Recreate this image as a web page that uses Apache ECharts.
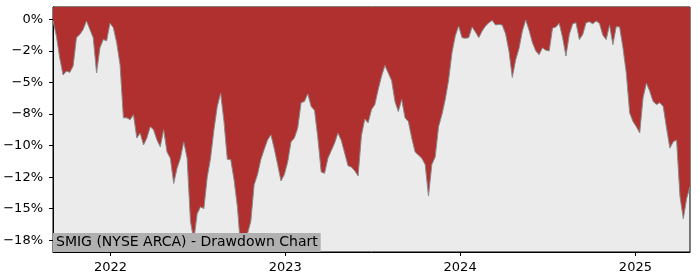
<!DOCTYPE html>
<html>
<head>
<meta charset="utf-8">
<script src="https://cdn.jsdelivr.net/npm/echarts@6/dist/echarts.min.js"></script>
<style>
html,body{margin:0;padding:0;background:#fff;}
#chart{width:700px;height:280px;}
</style>
</head>
<body>
<div id="chart"></div>
<script>
const titleText = 'SMIG (NYSE ARCA) - Drawdown Chart';

const dates = [
'2021-09-03','2021-09-10','2021-09-17','2021-09-24','2021-10-01','2021-10-08','2021-10-15','2021-10-22','2021-10-29','2021-11-05','2021-11-12','2021-11-19','2021-11-26','2021-12-03','2021-12-10','2021-12-17','2021-12-24','2021-12-31',
'2022-01-07','2022-01-14','2022-01-21','2022-01-28','2022-02-04','2022-02-11','2022-02-18','2022-02-25','2022-03-04','2022-03-11','2022-03-18','2022-03-25','2022-04-01','2022-04-08','2022-04-15','2022-04-22','2022-04-29','2022-05-06','2022-05-13','2022-05-20','2022-05-27','2022-06-03','2022-06-10','2022-06-17','2022-06-24','2022-07-01','2022-07-08','2022-07-15','2022-07-22','2022-07-29','2022-08-05','2022-08-12','2022-08-19','2022-08-26','2022-09-02','2022-09-09','2022-09-16','2022-09-23','2022-09-30','2022-10-07','2022-10-14','2022-10-21','2022-10-28','2022-11-04','2022-11-11','2022-11-18','2022-11-25','2022-12-02','2022-12-09','2022-12-16','2022-12-23','2022-12-30',
'2023-01-06','2023-01-13','2023-01-20','2023-01-27','2023-02-03','2023-02-10','2023-02-17','2023-02-24','2023-03-03','2023-03-10','2023-03-17','2023-03-24','2023-03-31','2023-04-07','2023-04-14','2023-04-21','2023-04-28','2023-05-05','2023-05-12','2023-05-19','2023-05-26','2023-06-02','2023-06-09','2023-06-16','2023-06-23','2023-06-30','2023-07-07','2023-07-14','2023-07-21','2023-07-28','2023-08-04','2023-08-11','2023-08-18','2023-08-25','2023-09-01','2023-09-08','2023-09-15','2023-09-22','2023-09-29','2023-10-06','2023-10-13','2023-10-20','2023-10-27','2023-11-03','2023-11-10','2023-11-17','2023-11-24','2023-12-01','2023-12-08','2023-12-15','2023-12-22','2023-12-29',
'2024-01-05','2024-01-12','2024-01-19','2024-01-26','2024-02-02','2024-02-09','2024-02-16','2024-02-23','2024-03-01','2024-03-08','2024-03-15','2024-03-22','2024-03-29','2024-04-05','2024-04-12','2024-04-19','2024-04-26','2024-05-03','2024-05-10','2024-05-17','2024-05-24','2024-05-31','2024-06-07','2024-06-14','2024-06-21','2024-06-28','2024-07-05','2024-07-12','2024-07-19','2024-07-26','2024-08-02','2024-08-09','2024-08-16','2024-08-23','2024-08-30','2024-09-06','2024-09-13','2024-09-20','2024-09-27','2024-10-04','2024-10-11','2024-10-18','2024-10-25','2024-11-01','2024-11-08','2024-11-15','2024-11-22','2024-11-29','2024-12-06','2024-12-13','2024-12-20','2024-12-27',
'2025-01-03','2025-01-10','2025-01-17','2025-01-24','2025-01-31','2025-02-07','2025-02-14','2025-02-21','2025-02-28','2025-03-07','2025-03-14','2025-03-21','2025-03-28','2025-04-04','2025-04-11','2025-04-18','2025-04-25'
];

const drawdown = [
-0.1,-1.3,-3.05,-4.4,-4.1,-4.2,-3.7,-1.45,-1.2,-0.8,-0.13,-0.8,-1.45,-4.25,-2.25,-1.6,-1.7,-0.3,
-0.66,-1.86,-3.6,-7.8,-7.8,-7.95,-7.55,-9.4,-9.0,-9.95,-9.4,-8.5,-8.75,-9.55,-10.1,-8.75,-10.5,-11.0,-13.0,-11.8,-11.0,-9.7,-11.0,-16.0,-17.5,-15.4,-14.85,-15.0,-12.5,-11.0,-8.75,-6.9,-5.85,-8.1,-11.1,-11.1,-12.7,-14.85,-18.2,-17.4,-17.0,-16.0,-13.1,-12.3,-11.1,-10.3,-9.55,-9.15,-10.25,-11.5,-12.8,-12.3,
-11.3,-9.7,-9.4,-8.6,-6.6,-6.5,-5.9,-6.9,-7.2,-9.4,-12.1,-12.2,-11.0,-10.4,-9.8,-9.0,-9.6,-10.6,-11.6,-11.7,-12.0,-12.4,-9.2,-7.9,-8.2,-7.15,-6.75,-5.55,-4.5,-3.65,-4.25,-4.85,-6.5,-7.3,-6.35,-7.8,-8.1,-9.4,-10.5,-10.75,-11.0,-11.5,-14.0,-11.5,-10.9,-8.5,-7.55,-6.35,-4.8,-2.65,-1.3,-0.53,
-1.45,-1.5,-1.45,-0.6,-1.0,-1.45,-0.93,-0.53,-0.27,-0.08,-0.45,-0.4,-0.45,-1.15,-2.5,-4.6,-3.2,-2.3,-0.93,-0.05,-0.87,-1.85,-2.5,-2.8,-2.25,-2.45,-2.5,-0.7,-0.6,-0.3,-1.45,-2.9,-1.2,-0.35,-0.27,-1.6,-1.2,-0.27,-0.19,-0.35,-0.13,-0.32,-1.25,-1.6,-0.45,-2.0,-0.58,-0.6,-2.25,-4.25,-7.4,-8.1,
-8.5,-9.0,-6.2,-5.05,-5.7,-6.5,-6.75,-6.6,-6.9,-8.6,-10.2,-9.7,-9.55,-14.0,-15.8,-14.2,-13.25
];

const yTickValues = [0, -2.5, -5, -7.5, -10, -12.5, -15, -17.5];
const yTickLabels = ['0%', '\u22122%', '\u22125%', '\u22128%', '\u221210%', '\u221212%', '\u221215%', '\u221218%'];
const xTickDates = ['2022-01-01', '2023-01-01', '2024-01-01', '2025-01-01'];
const xTickLabels = ['2022', '2023', '2024', '2025'];

const toTime = d => new Date(d + 'T00:00:00Z').getTime();
const xTickTimes = xTickDates.map(toTime);
const seriesData = dates.map((d, i) => [toTime(d), drawdown[i]]);

const chart = echarts.init(document.getElementById('chart'), null, {renderer: 'canvas'});
const font = 'DejaVu Sans';
chart.setOption({
  animation: false,
  backgroundColor: '#ffffff',
  textStyle: {fontFamily: font},
  grid: {
    left: 53, right: 10, top: 7, bottom: 28,
    show: true, backgroundColor: '#ebebeb', borderColor: '#000', borderWidth: 1,
    containLabel: false
  },
  title: {
    text: titleText,
    left: 53, top: 233,
    padding: [2, 3, 2, 3],
    backgroundColor: '#b0b0b0',
    textStyle: {fontFamily: font, fontSize: 14, fontWeight: 'normal', color: '#000', lineHeight: 15}
  },
  xAxis: {
    type: 'value',
    min: toTime(dates[0]),
    max: toTime(dates[dates.length - 1]),
    axisLine: {show: true, onZero: false, lineStyle: {color: '#000', width: 1}},
    axisTick: {show: true, customValues: xTickTimes, length: 4, lineStyle: {color: '#000'}},
    axisLabel: {
      customValues: xTickTimes,
      color: '#000', fontSize: 13, fontFamily: font, margin: 9,
      formatter: function (v) {
        let best = 0, bd = Infinity;
        xTickTimes.forEach((t, i) => { const d = Math.abs(t - v); if (d < bd) { bd = d; best = i; } });
        return xTickLabels[best];
      }
    },
    splitLine: {show: false}
  },
  yAxis: {
    type: 'value',
    min: -18.43, max: 0.98,
    axisLine: {show: true, onZero: false, lineStyle: {color: '#000', width: 1}},
    axisTick: {show: true, customValues: yTickValues, length: 4, lineStyle: {color: '#000'}},
    axisLabel: {
      customValues: yTickValues,
      color: '#000', fontSize: 13, fontFamily: font, margin: 10,
      formatter: function (v) {
        let best = 0, bd = Infinity;
        yTickValues.forEach((t, i) => { const d = Math.abs(t - v); if (d < bd) { bd = d; best = i; } });
        return yTickLabels[best];
      }
    },
    splitLine: {show: false}
  },
  series: [{
    type: 'line',
    data: seriesData,
    symbol: 'none',
    lineStyle: {color: '#8a8a8a', width: 1},
    areaStyle: {color: '#b03030', opacity: 1, origin: 'end'},
    z: 2
  }]
});
</script>
</body>
</html>
